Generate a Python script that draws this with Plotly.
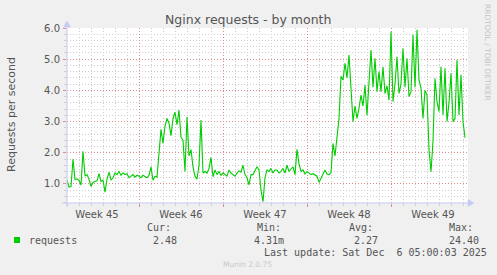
import plotly.graph_objects as go

# ---------------- data ----------------
# requests per second, sampled every 4 hours (1/6 day), from the left edge of the graph
step_day = 1 / 6
requests = [
    1.13, 0.9, 0.92, 1.79, 1.15, 1.16, 1.12, 0.97, 2.05, 1.25,
    1.3, 1.15, 0.92, 1.05, 1.08, 1.1, 1.33, 1.08, 1.12, 0.74,
    1.15, 1.38, 1.12, 1.2, 1.35, 1.3, 1.4, 1.28, 1.36, 1.3,
    1.33, 1.2, 1.25, 1.3, 1.22, 1.28, 1.25, 1.2, 1.28, 1.25,
    1.2, 1.28, 1.55, 1.12, 1.25, 1.22, 1.95, 2.75, 2.3, 2.85,
    3.1, 2.95, 2.55, 3.1, 3.3, 2.9, 3.37, 2.5, 2.4, 1.4,
    3.15, 1.9, 2.1, 1.55, 1.25, 1.15, 1.6, 3.05, 1.35, 1.4,
    1.35, 1.5, 1.85, 1.23, 1.45, 1.3, 1.4, 1.28, 1.35, 1.3,
    1.25, 1.45, 1.35, 1.3, 1.25, 1.35, 1.42, 1.38, 1.6, 1.3,
    1.2, 0.97, 1.3, 1.3, 1.42, 1.55, 1.45, 0.8, 0.43, 1.2,
    1.45, 1.4, 1.5, 1.35, 1.45, 1.45, 1.35, 1.4, 1.5, 1.35,
    1.6, 1.4, 1.48, 1.55, 1.3, 2.11, 1.65, 1.4, 1.45, 1.32,
    1.4, 1.35, 1.3, 1.33, 1.3, 1.25, 1.05, 1.18, 1.3, 1.45,
    1.32, 1.3, 1.36, 2.3, 1.9, 2.6, 3.1, 4.45, 4.33, 4.87,
    4.4, 5.13, 4.0, 3.0, 3.5, 3.1, 3.43, 3.85, 3.5, 4.17,
    3.2, 4.33, 5.29, 4.1, 5.03, 3.96, 4.6, 3.96, 4.76, 3.9,
    4.15, 3.69, 5.88, 3.64, 4.2, 5.08, 3.9, 4.2, 5.35, 4.1,
    5.03, 3.8, 3.96, 5.78, 4.1, 5.94, 4.33, 4.07, 3.1, 4.0,
    3.85, 2.1, 1.39, 2.36, 4.39, 3.64, 3.32, 4.76, 3.21, 4.71,
    3.0, 3.6, 4.55, 3.0, 3.1, 4.97, 3.21, 4.5, 3.0, 2.48,
]
days = [i * step_day for i in range(len(requests))]

week_labels = ["Week 45", "Week 46", "Week 47", "Week 48", "Week 49"]
week_centers = [2.5, 9.5, 16.5, 23.5, 30.5]
week_bounds = [6, 13, 20, 27]
x_range = [0, 401 / 12]

y_ticks = [1, 2, 3, 4, 5, 6]
y_tick_labels = ["1.0", "2.0", "3.0", "4.0", "5.0", "6.0"]
y_range = [0.39, 6.0]

title = "Nginx requests - by month"
y_title = "Requests per second"
series_name = "requests"
stat_names = ["Cur:", "Min:", "Avg:", "Max:"]
stat_values = ["2.48", "4.31m", "2.27", "24.40"]
last_update = "Last update: Sat Dec  6 05:00:03 2025"
credit = "RRDTOOL / TOBI OETIKER"
version = "Munin 2.0.75"

# ---------------- layout geometry ----------------
W, H = 497, 275
L, R, T, B = 67, 468, 28, 203  # plot area in pixels


def px(x):
    return (x - L) / (R - L)


def py(y):
    return (B - y) / (B - T)


TEXT = "#555555"
GREEN = "#00cc00"
MAJOR = "#e08c8c"
MINOR = "#cdcdcd"
DOTS = "1px,2px"
AXIS = "#c4caf2"
SANS = "DejaVu Sans"
MONO = "DejaVu Sans Mono"

fig = go.Figure()
fig.add_trace(go.Scatter(
    x=days, y=requests, mode="lines",
    line=dict(color=GREEN, width=1.1),
    showlegend=False, hoverinfo="skip",
))
# dummy trace to activate the label axis
fig.add_trace(go.Scatter(x=[week_centers[0]], y=[None], xaxis="x2",
                         showlegend=False, hoverinfo="skip"))

fig.update_layout(
    width=W, height=H,
    margin=dict(l=L, r=W - R, t=T, b=H - B, pad=0),
    paper_bgcolor="#f0f0f0",
    plot_bgcolor="#ffffff",
    showlegend=False,
    xaxis=dict(
        range=x_range, tickmode="array", tickvals=week_bounds,
        ticktext=["" for _ in week_bounds],
        showgrid=True, gridcolor=MAJOR, griddash=DOTS, gridwidth=1,
        ticks="outside", ticklen=3, tickcolor=MAJOR,
        zeroline=False, showline=False, fixedrange=True,
        minor=dict(tickmode="linear", tick0=0, dtick=1, showgrid=True,
                   gridcolor=MINOR, griddash=DOTS, gridwidth=1,
                   ticks="outside", ticklen=2, tickcolor=MINOR),
    ),
    xaxis2=dict(
        range=x_range, overlaying="x", side="bottom", anchor="y",
        tickmode="array", tickvals=week_centers, ticktext=week_labels,
        showgrid=False, zeroline=False, showline=False, ticks="",
        tickfont=dict(family=SANS, size=10, color=TEXT),
        ticklabelstandoff=4,
    ),
    yaxis=dict(
        range=y_range, tickmode="array", tickvals=y_ticks, ticktext=y_tick_labels,
        showgrid=True, gridcolor=MAJOR, griddash=DOTS, gridwidth=1,
        ticks="outside", ticklen=3, tickcolor=MAJOR,
        zeroline=False, showline=False, fixedrange=True,
        tickfont=dict(family=SANS, size=10, color=TEXT),
        ticklabelstandoff=1,
        minor=dict(tickmode="linear", tick0=0, dtick=0.2, showgrid=True,
                   gridcolor=MINOR, griddash=DOTS, gridwidth=1,
                   ticks="outside", ticklen=2, tickcolor=MINOR),
    ),
)

shapes = []
# axis lines with arrow heads
shapes.append(dict(type="line", xref="paper", yref="paper",
                   x0=px(62), x1=px(470), y0=py(203), y1=py(203),
                   line=dict(color=AXIS, width=1)))
shapes.append(dict(type="path", xref="paper", yref="paper",
                   path=f"M {px(468)} {py(199.5)} L {px(474)} {py(203)} L {px(468)} {py(206.5)} Z",
                   fillcolor=AXIS, line=dict(color=AXIS, width=0.5)))
shapes.append(dict(type="line", xref="paper", yref="paper",
                   x0=px(67), x1=px(67), y0=py(207), y1=py(25),
                   line=dict(color=AXIS, width=1)))
shapes.append(dict(type="path", xref="paper", yref="paper",
                   path=f"M {px(63.5)} {py(27)} L {px(67)} {py(21)} L {px(70.5)} {py(27)} Z",
                   fillcolor=AXIS, line=dict(color=AXIS, width=0.5)))
# legend swatch
shapes.append(dict(type="rect", xref="paper", yref="paper",
                   x0=px(14), x1=px(20), y0=py(237), y1=py(243),
                   fillcolor=GREEN, line=dict(width=0)))
fig.update_layout(shapes=shapes)

ann = []


def text(s, x, y, size, color=TEXT, family=SANS, xanchor="left", angle=0):
    ann.append(dict(text=s, x=px(x), y=py(y), xref="paper", yref="paper",
                    xanchor=xanchor, yanchor="middle", showarrow=False,
                    textangle=angle, font=dict(family=family, size=size, color=color)))


text(title, 248, 19, 12.5, xanchor="center")
text(y_title, 11, 115, 11, xanchor="center", angle=-90)
text(credit, 488, 52, 7.5, color="#c4c4c4", xanchor="center", angle=90)

text(series_name, 27, 240, 10, family=MONO)
stat_label_x = [145, 255, 347, 447]
stat_value_x = [151, 252, 352, 447]
for name, val, lx, vx in zip(stat_names, stat_values, stat_label_x, stat_value_x):
    text(name, lx, 227.5, 10, family=MONO)
    text(val, vx, 240, 10, family=MONO)
text(last_update.replace(" ", "\u00a0"), 262, 252, 10, family=MONO)
text(version, 247, 264, 7.5, color="#c8c8c8", xanchor="center")

fig.update_layout(annotations=ann)

fig.write_html("out.html")
